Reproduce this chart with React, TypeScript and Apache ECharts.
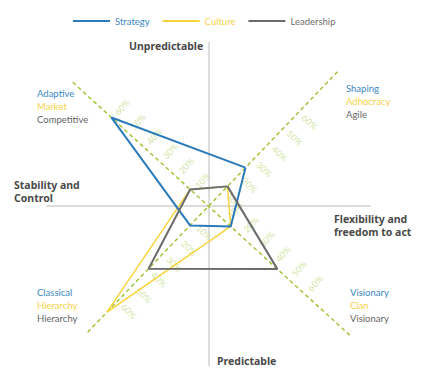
import React, { useEffect, useRef } from 'react';
import * as echarts from 'echarts';

// Axis order: NE, NW, SW, SE
const axisNames = ['Shaping', 'Adaptive', 'Classical', 'Visionary'];
const axisAngles = [46.2, 137.6, 226.2, 317.6];
const axisLength = [85.5, 84.3, 80.6, 88.7];
const tickValues = [10, 20, 30, 40, 50, 60];
const tickLabels = ['10%', '20%', '30%', '40%', '50%', '60%'];

const seriesNames = ['Strategy', 'Culture', 'Leadership'];
const strategy = [24.5, 60.3, 12.2, 13.8];
const culture = [12.6, 11.4, 67.3, 13.8];
const leadership = [12.6, 11.4, 39.7, 42.8];

const BLUE = '#2b7bba';
const YELLOW = '#f7d33d';
const GRAY = '#6b6b6b';
const GREEN = '#a3c53c';
const LABEL_GREEN = '#c7dd8c';
const TITLE = '#4a4a4a';
const FONT = 'Lato, sans-serif';
const BOLD_FONT = '"Noto Sans", sans-serif';

const CX = 208.5;
const CY = 206.2;
const S = 2.18; // px per unit
const X_MIN = -74, X_MAX = 74, Y_MIN = -73, Y_MAX = 75;
const LABEL_OFF = 6.9;

const rad = (d: number) => (d * Math.PI) / 180;
const pt = (r: number, i: number) => [r * Math.cos(rad(axisAngles[i])), r * Math.sin(rad(axisAngles[i]))];
const poly = (vals: number[]) => {
  const p = vals.map((v, i) => pt(v, i));
  return [...p, p[0]];
};

export default function App() {
  const ref = useRef<HTMLDivElement>(null);
  useEffect(() => {
    if (!ref.current) return;
    const chart = echarts.init(ref.current, undefined, { renderer: 'svg' });

    const labelData: any[] = [];
    axisNames.forEach((_, i) => {
      const la = axisAngles[i % 2];
      const px = Math.sin(rad(la));
      const py = -Math.cos(rad(la));
      tickValues.forEach((t, k) => {
        const [x, y] = pt(t, i);
        labelData.push({
          value: [x + LABEL_OFF * px, y + LABEL_OFF * py],
          name: tickLabels[k],
          label: { rotate: la - 90 },
        });
      });
    });

    const lineStyleFor = (c: string, w: number) => ({ color: c, width: w });

    chart.setOption({
      animation: false,
      grid: {
        left: CX + X_MIN * S,
        top: CY - Y_MAX * S,
        width: (X_MAX - X_MIN) * S,
        height: (Y_MAX - Y_MIN) * S,
      },
      xAxis: {
        type: 'value', min: X_MIN, max: X_MAX,
        axisLine: { show: true, onZero: true, lineStyle: { color: '#dcdcdc', width: 2 } },
        axisTick: { show: false }, axisLabel: { show: false }, splitLine: { show: false },
      },
      yAxis: {
        type: 'value', min: Y_MIN, max: Y_MAX,
        axisLine: { show: true, onZero: true, lineStyle: { color: '#dcdcdc', width: 2 } },
        axisTick: { show: false }, axisLabel: { show: false }, splitLine: { show: false },
      },
      legend: {
        left: 73, top: 16, padding: 0, itemWidth: 37, itemHeight: 2, itemGap: 13, icon: 'rect',
        textStyle: { fontFamily: FONT, fontSize: 9.5 },
        data: [
          { name: 'Strategy', textStyle: { color: '#3b88c2' } },
          { name: 'Culture', textStyle: { color: '#f5d24a' } },
          { name: 'Leadership', textStyle: { color: '#6e6e6e' } },
        ],
      },
      series: [
        {
          type: 'line', name: 'axisA', silent: true, symbol: 'none', z: 1,
          data: [pt(axisLength[0], 0), pt(axisLength[2], 2)],
          lineStyle: { color: GREEN, width: 1.5, type: [4, 3] },
        },
        {
          type: 'line', name: 'axisB', silent: true, symbol: 'none', z: 1,
          data: [pt(axisLength[1], 1), pt(axisLength[3], 3)],
          lineStyle: { color: GREEN, width: 1.5, type: [4, 3] },
        },
        {
          type: 'scatter', name: 'ticks', silent: true, symbolSize: 1, z: 1,
          itemStyle: { color: 'rgba(0,0,0,0)' },
          label: {
            show: true, position: 'inside', formatter: '{b}',
            color: LABEL_GREEN, fontSize: 9, fontFamily: FONT,
          },
          data: labelData,
        },
        {
          type: 'line', name: seriesNames[1], symbol: 'none', z: 3,
          data: poly(culture), lineStyle: lineStyleFor(YELLOW, 1.5), itemStyle: { color: YELLOW },
        },
        {
          type: 'line', name: seriesNames[0], symbol: 'none', z: 4,
          data: poly(strategy), lineStyle: lineStyleFor(BLUE, 2), itemStyle: { color: BLUE },
        },
        {
          type: 'line', name: seriesNames[2], symbol: 'none', z: 5,
          data: poly(leadership), lineStyle: lineStyleFor(GRAY, 2), itemStyle: { color: GRAY },
        },
      ],
      graphic: [
        {
          type: 'text', left: 129, top: 40,
          style: { text: 'Unpredictable', font: `bold 10.5px ${BOLD_FONT}`, fill: TITLE },
        },
        {
          type: 'text', left: 14, top: 178,
          style: { text: 'Stability and\nControl', font: `bold 10.5px ${BOLD_FONT}`, fill: TITLE, lineHeight: 13 },
        },
        {
          type: 'text', left: 334, top: 212,
          style: { text: 'Flexibility and\nfreedom to act', font: `bold 10.5px ${BOLD_FONT}`, fill: TITLE, lineHeight: 13 },
        },
        {
          type: 'text', left: 217, top: 355,
          style: { text: 'Predictable', font: `bold 10.5px ${BOLD_FONT}`, fill: TITLE },
        },
        ...[
          { x: 37, y: 88, t: ['Adaptive', 'Market', 'Competitive'] },
          { x: 346, y: 83, t: ['Shaping', 'Adhocracy', 'Agile'] },
          { x: 37, y: 287, t: ['Classical', 'Hierarchy', 'Hierarchy'] },
          { x: 350, y: 287, t: ['Visionary', 'Clan', 'Visionary'] },
        ].map((c) => ({
          type: 'text', left: c.x, top: c.y,
          style: {
            text: `{a|${c.t[0]}}\n{b|${c.t[1]}}\n{c|${c.t[2]}}`,
            rich: {
              a: { fill: '#3b88c2', fontSize: 9.5, fontFamily: FONT, lineHeight: 13 },
              b: { fill: '#f5d24a', fontSize: 9.5, fontFamily: FONT, lineHeight: 13 },
              c: { fill: '#666666', fontSize: 9.5, fontFamily: FONT, lineHeight: 13 },
            },
          },
        })),
      ],
    });
    return () => chart.dispose();
  }, []);
  return <div ref={ref} style={{ position: 'fixed', left: 0, top: 0, width: 426, height: 377, background: '#fff' }} />;
}
